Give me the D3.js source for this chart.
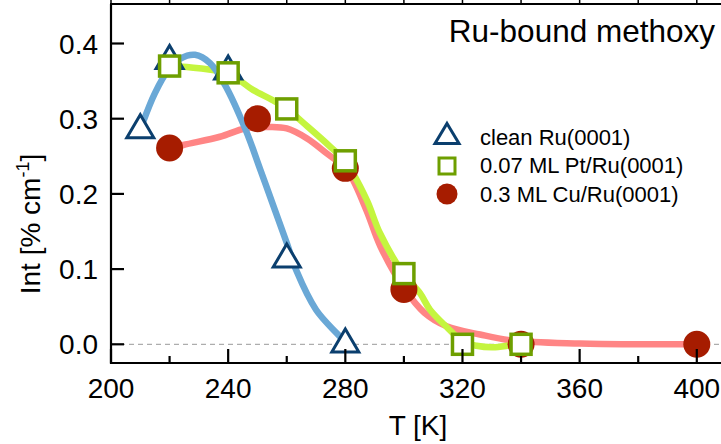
<!DOCTYPE html>
<html><head><meta charset="utf-8">
<script src="https://cdn.jsdelivr.net/npm/d3@7"></script>
<style>html,body{margin:0;padding:0;background:#fff;}svg{display:block;font-family:"Liberation Sans",Arial,sans-serif;}</style>
</head><body>
<svg id="c" width="721" height="444"></svg>
<script>
// Measured points
const cleanT = [210, 220, 240, 260, 280];
const cleanV = [0.29, 0.382, 0.368, 0.118, 0.005];
const ptT = [220, 240, 260, 280, 300, 320, 340];
const ptV = [0.370, 0.361, 0.313, 0.244, 0.094, 0.0, 0.0];
const cuT = [220, 250, 280, 300, 340, 400];
const cuV = [0.261, 0.300, 0.234, 0.073, 0.0, 0.0];
// Smooth guide curves
const cleanCurveT = [211, 215, 219.6, 223.7, 228.7, 233.8, 238.9, 246, 251, 256, 260, 263.4, 270, 277, 280];
const cleanCurveV = [0.296, 0.334, 0.365, 0.380, 0.385, 0.374, 0.345, 0.285, 0.232, 0.178, 0.135, 0.097, 0.046, 0.015, 0.003];
const ptCurveT = [220, 230, 240, 248.6, 255, 260, 267, 274.8, 280, 287.3, 291.8, 300, 305.5, 308.9, 314.6, 320, 324.8, 330.4, 337, 340];
const ptCurveV = [0.370, 0.367, 0.360, 0.338, 0.325, 0.313, 0.290, 0.263, 0.243, 0.192, 0.148, 0.093, 0.068, 0.046, 0.023, 0.004, -0.002, -0.004, -0.001, 0.0];
const cuCurveT = [220, 224.7, 237.2, 245.8, 254.3, 260, 266.8, 273.6, 280.5, 287, 292, 300, 307, 314.6, 326, 337, 360, 380, 400];
const cuCurveV = [0.260, 0.265, 0.276, 0.287, 0.289, 0.287, 0.274, 0.254, 0.232, 0.180, 0.130, 0.075, 0.042, 0.024, 0.013, 0.005, 0.001, 0.0, 0.0];
const xMajor = [200, 240, 280, 320, 360, 400];
const xMinor = [220, 260, 300, 340, 380];
const yTicks = [0.0, 0.1, 0.2, 0.3, 0.4];
const legendLabels = ["clean Ru(0001)", "0.07 ML Pt/Ru(0001)", "0.3 ML Cu/Ru(0001)"];

const svg = d3.select("#c");
const L = 111, R = 726, T = 4, B = 363;
const x = d3.scaleLinear().domain([200, 410]).range([L, L + 210 * 2.929]);
const y = d3.scaleLinear().domain([0, 0.4]).range([344.3, 43.5]);

const cBlue = "#6aa8d6", cGreen = "#c4f53f", cRed = "#ff8585";
const cTri = "#0b3f6e", cSq = "#6e9f00", cCirc = "#a61c00";

// zero line
svg.append("line").attr("x1", L).attr("x2", 721).attr("y1", y(0)).attr("y2", y(0))
  .attr("stroke", "#999").attr("stroke-width", 1).attr("stroke-dasharray", "5,4");

const line = d3.line().x(d => x(d[0])).y(d => y(d[1])).curve(d3.curveCatmullRom.alpha(0.5));
function drawCurve(ts, vs, col) {
  svg.append("path").attr("d", line(ts.map((t, i) => [t, vs[i]])))
    .attr("fill", "none").attr("stroke", col).attr("stroke-width", 6.5)
    .attr("stroke-linejoin", "round").attr("stroke-linecap", "butt");
}
drawCurve(cuCurveT, cuCurveV, cRed);
drawCurve(ptCurveT, ptCurveV, cGreen);
drawCurve(cleanCurveT, cleanCurveV, cBlue);

function triPath(cx, cy, w, h) {
  return `M${cx},${cy - h / 2}L${cx + w / 2},${cy + h / 2}L${cx - w / 2},${cy + h / 2}Z`;
}
// circles
svg.selectAll(".cu").data(cuT).enter().append("circle")
  .attr("cx", d => x(d)).attr("cy", (d, i) => y(cuV[i])).attr("r", 13.5).attr("fill", cCirc);
// triangles
svg.selectAll(".tri").data(cleanT).enter().append("path")
  .attr("d", (d, i) => triPath(x(d), y(cleanV[i]), 27, 23))
  .attr("fill", "#fff").attr("stroke", cTri).attr("stroke-width", 3).attr("stroke-linejoin", "miter");
// squares
svg.selectAll(".sq").data(ptT).enter().append("rect")
  .attr("x", d => x(d) - 10).attr("y", (d, i) => y(ptV[i]) - 10).attr("width", 20).attr("height", 20)
  .attr("fill", "#fff").attr("stroke", cSq).attr("stroke-width", 3.5);

// axes frame
const ax = svg.append("g").attr("stroke", "#000").attr("stroke-width", 2.2);
ax.append("line").attr("x1", L).attr("x2", L).attr("y1", T).attr("y2", B + 1);
ax.append("line").attr("x1", L - 1).attr("x2", 721).attr("y1", B).attr("y2", B);
ax.append("line").attr("x1", L - 1).attr("x2", 721).attr("y1", T).attr("y2", T);
// bottom ticks
xMajor.forEach(t => ax.append("line").attr("x1", x(t)).attr("x2", x(t)).attr("y1", B).attr("y2", B - 14));
xMinor.forEach(t => ax.append("line").attr("x1", x(t)).attr("x2", x(t)).attr("y1", B).attr("y2", B - 7));
xMajor.concat(xMinor).forEach(t => ax.append("line").attr("x1", x(t)).attr("x2", x(t)).attr("y1", T).attr("y2", 0).attr("stroke-width", 1.5));
// left ticks
yTicks.forEach(v => ax.append("line").attr("x1", L).attr("x2", L + 13).attr("y1", y(v)).attr("y2", y(v)));

// tick labels
svg.selectAll(".xl").data(xMajor).enter().append("text")
  .attr("x", d => x(d)).attr("y", 398).attr("text-anchor", "middle")
  .attr("font-size", 28).attr("fill", "#000").text(d => d);
svg.selectAll(".yl").data(yTicks).enter().append("text")
  .attr("x", 98).attr("y", d => y(d) + 10).attr("text-anchor", "end")
  .attr("font-size", 28).attr("fill", "#000").text(d => d.toFixed(1));

// axis titles
svg.append("text").attr("x", 418).attr("y", 435).attr("text-anchor", "middle")
  .attr("font-size", 28).text("T [K]");
const yl = svg.append("text").attr("transform", "translate(40,224) rotate(-90)")
  .attr("text-anchor", "middle").attr("font-size", 28);
yl.append("tspan").text("Int [% cm");
yl.append("tspan").attr("font-size", 18).attr("dy", -11).text("-1");
yl.append("tspan").attr("dy", 11).text("]");

// title
svg.append("text").attr("x", 715).attr("y", 42).attr("text-anchor", "end")
  .attr("font-size", 31.5).text("Ru-bound methoxy");

// legend
const lgSymY = [133.5, 166, 194];
const lgTxtY = [145, 173, 201.5];
svg.append("path").attr("d", triPath(447, lgSymY[0], 24, 20)).attr("fill", "#fff")
  .attr("stroke", cTri).attr("stroke-width", 3);
svg.append("rect").attr("x", 447 - 8).attr("y", lgSymY[1] - 8).attr("width", 16).attr("height", 16)
  .attr("fill", "#fff").attr("stroke", cSq).attr("stroke-width", 3);
svg.append("circle").attr("cx", 447).attr("cy", lgSymY[2]).attr("r", 10.5).attr("fill", cCirc);
legendLabels.forEach((s, i) => svg.append("text").attr("x", 480).attr("y", lgTxtY[i])
  .attr("font-size", 22).text(s));
</script>
</body></html>
